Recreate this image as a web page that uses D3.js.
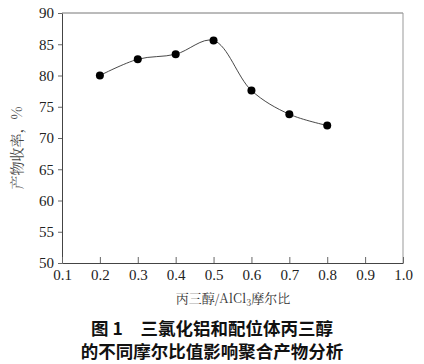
<!DOCTYPE html>
<html><head><meta charset="utf-8">
<script src="https://cdn.jsdelivr.net/npm/d3@7"></script>
<style>body{margin:0;background:#fff}</style>
</head><body>
<svg id="c" width="424" height="364"></svg>
<script>
const ratios = [0.2, 0.3, 0.4, 0.5, 0.6, 0.7, 0.8];
const yields = [80.0, 82.6, 83.4, 85.6, 77.6, 73.8, 72.0];
const xTicks = [0.1, 0.2, 0.3, 0.4, 0.5, 0.6, 0.7, 0.8, 0.9, 1.0];
const yTicks = [50, 55, 60, 65, 70, 75, 80, 85, 90];
const yTitle = "产物收率，%";
const xTitle = ["丙三醇/AlCl", "3", "摩尔比"];
const caption = ["图 1　三氯化铝和配位体丙三醇", "的不同摩尔比值影响聚合产物分析"];

const svg = d3.select("#c");
const L = 62, R = 403, T = 13, B = 263;
const x = d3.scaleLinear().domain([0.1, 1.0]).range([L, R]);
const y = d3.scaleLinear().domain([50, 90]).range([B, T]);
const serif = "'Liberation Serif','DejaVu Serif',serif";

svg.append("line").attr("x1", L).attr("x2", R).attr("y1", T).attr("y2", T).attr("stroke", "#777").attr("stroke-width", 1);
svg.append("line").attr("x1", R).attr("x2", R).attr("y1", T).attr("y2", B).attr("stroke", "#999").attr("stroke-width", 1);

const ya = svg.append("g").attr("transform", `translate(${L},0)`)
  .call(d3.axisLeft(y).tickValues(yTicks).tickSize(4).tickSizeOuter(0).tickPadding(4).tickFormat(d3.format("d")));
ya.select(".domain").attr("stroke", "#444");
ya.selectAll(".tick line").attr("stroke", "#666");
ya.selectAll("text").attr("font-family", serif).attr("font-size", 15).attr("fill", "#222");

const xa = svg.append("g").attr("transform", `translate(0,${B})`)
  .call(d3.axisBottom(x).tickValues(xTicks).tickSize(-6).tickSizeOuter(0).tickPadding(4).tickFormat(d3.format(".1f")));
xa.select(".domain").attr("stroke", "#444");
xa.selectAll(".tick line").attr("stroke", "#666");
xa.selectAll("text").attr("font-family", serif).attr("font-size", 15).attr("fill", "#222").attr("dy", "0.85em");

const pts = ratios.map((r, i) => [r, yields[i]]);
svg.append("path").datum(pts)
  .attr("d", d3.line().x(d => x(d[0])).y(d => y(d[1])).curve(d3.curveCatmullRom.alpha(0.5)))
  .attr("fill", "none").attr("stroke", "#333").attr("stroke-width", 0.9);
svg.selectAll("circle.p").data(pts).join("circle")
  .attr("cx", d => x(d[0])).attr("cy", d => y(d[1])).attr("r", 4).attr("fill", "#000");

svg.append("text").attr("transform", `translate(22,148) rotate(-90)`)
  .attr("text-anchor", "middle").attr("font-family", "'Noto Serif CJK SC','Noto Sans CJK SC',serif")
  .attr("font-size", 14).attr("fill", "#444").text(yTitle);

const xt = svg.append("text").attr("x", 233).attr("y", 303).attr("text-anchor", "middle")
  .attr("font-family", "'Noto Serif CJK SC','Noto Sans CJK SC',serif").attr("font-size", 13).attr("fill", "#333");
xt.append("tspan").text(xTitle[0]);
xt.append("tspan").attr("dy", 3).attr("font-size", 9).text(xTitle[1]);
xt.append("tspan").attr("dy", -3).text(xTitle[2]);

svg.selectAll("text.cap").data(caption).join("text")
  .attr("class", "cap")
  .attr("x", 212).attr("y", (d, i) => 335 + i * 23).attr("text-anchor", "middle")
  .attr("font-family", "'Noto Sans CJK SC',sans-serif").attr("font-weight", "bold")
  .attr("font-size", 17.5).attr("fill", "#111").text(d => d);
</script>
</body></html>
